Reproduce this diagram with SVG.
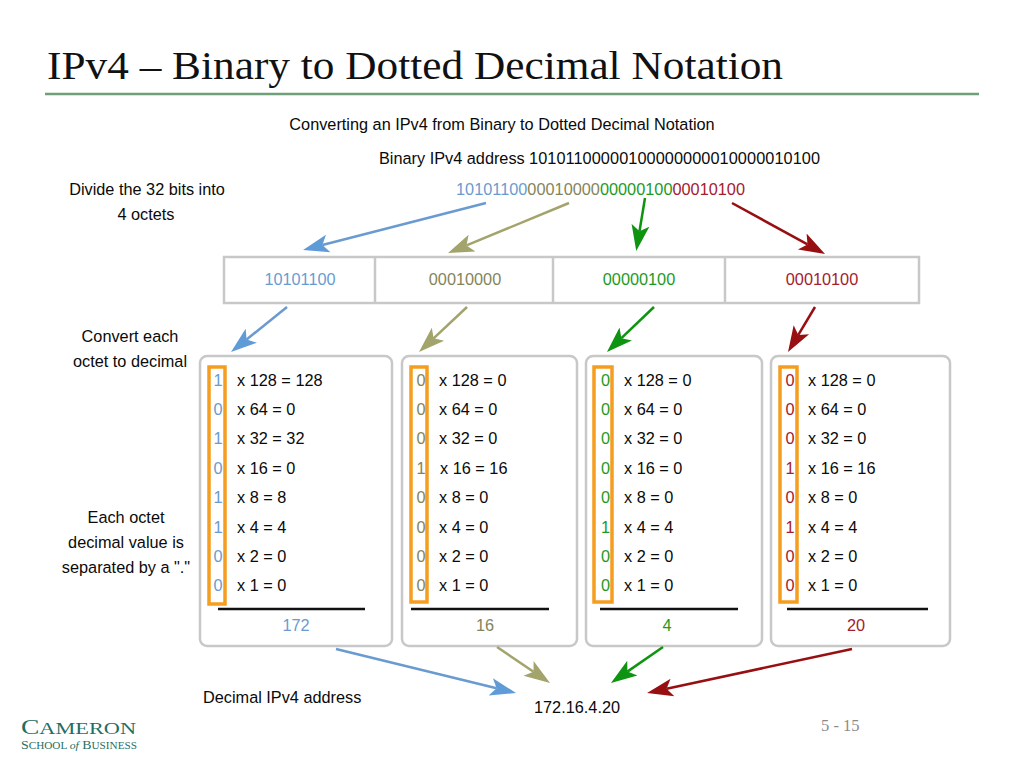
<svg xmlns="http://www.w3.org/2000/svg" width="1024" height="768" viewBox="0 0 1024 768">
<style>
text{font-family:"Liberation Sans",Arial,sans-serif;font-size:16.3px;fill:#0a0a0a}
.m{text-anchor:middle}
.b{fill:#6a9bd0}.o{fill:#84845a}.g{fill:#1c9a24}.r{fill:#a3202e}
.panel{fill:#fff;stroke:#c8c8c8;stroke-width:2.5}
.cell{fill:#fff;stroke:#c8c8c8;stroke-width:2.5}
.hl{fill:none;stroke:#f59d1e;stroke-width:3.5}
.rule{stroke:#111;stroke-width:2.5}
.a{fill:none;stroke-width:2.5}
.ab{stroke:#6a9bd0}.ao{stroke:#a3a36c}.ag{stroke:#0e9410}.ar{stroke:#980f12}
</style>
<defs>
<marker id="hb" markerUnits="userSpaceOnUse" markerWidth="28" markerHeight="22" refX="6" refY="11" orient="auto"><path d="M0,2 L26,11 L0,20 L6,11 Z" fill="#5f9bd6"/></marker>
<marker id="ho" markerUnits="userSpaceOnUse" markerWidth="28" markerHeight="22" refX="6" refY="11" orient="auto"><path d="M0,2 L26,11 L0,20 L6,11 Z" fill="#a3a36c"/></marker>
<marker id="hg" markerUnits="userSpaceOnUse" markerWidth="28" markerHeight="22" refX="6" refY="11" orient="auto"><path d="M0,2 L26,11 L0,20 L6,11 Z" fill="#0e9410"/></marker>
<marker id="hr" markerUnits="userSpaceOnUse" markerWidth="28" markerHeight="22" refX="6" refY="11" orient="auto"><path d="M0,2 L26,11 L0,20 L6,11 Z" fill="#980f12"/></marker>
</defs>
<rect width="1024" height="768" fill="#fff"/>

<g id="title">
<text x="47" y="79" textLength="736" lengthAdjust="spacingAndGlyphs" style="font-family:'Liberation Serif',serif;font-size:41px;fill:#111">IPv4 – Binary to Dotted Decimal Notation</text>
<line x1="45" y1="94" x2="979" y2="94" stroke="#6f9f78" stroke-width="2.5"/>
</g>

<g id="heading">
<text x="502" y="130" class="m">Converting an IPv4 from Binary to Dotted Decimal Notation</text>
<text x="379" y="164">Binary IPv4 address</text>
<text x="529" y="164" textLength="291">10101100000100000000010000010100</text>
</g>

<g id="bitstring">
<text x="456" y="195" textLength="289"><tspan class="b">10101100</tspan><tspan class="o">00010000</tspan><tspan class="g">00000100</tspan><tspan class="r">00010100</tspan></text>
</g>

<g id="labels">
<text x="147" y="195" class="m">Divide the 32 bits into</text>
<text x="146" y="220" class="m">4 octets</text>
<text x="130" y="342" class="m">Convert each</text>
<text x="130" y="367" class="m">octet to decimal</text>
<text x="126" y="523" class="m">Each octet</text>
<text x="126" y="548" class="m">decimal value is</text>
<text x="126" y="573" class="m">separated by a "."</text>
<text x="203" y="703">Decimal IPv4 address</text>
</g>

<g id="octets">
<rect class="cell" x="224" y="257" width="695" height="46"/>
<line class="cell" x1="375" y1="257" x2="375" y2="303"/>
<line class="cell" x1="553" y1="257" x2="553" y2="303"/>
<line class="cell" x1="725" y1="257" x2="725" y2="303"/>
<text x="300" y="285" class="m b">10101100</text>
<text x="465" y="285" class="m o">00010000</text>
<text x="639" y="285" class="m g">00000100</text>
<text x="822" y="285" class="m r">00010100</text>
</g>

<g id="panel1">
<rect class="panel" x="200" y="356" width="192" height="290" rx="7"/>
<rect class="hl" x="209" y="367" width="16" height="237"/>
<text x="218" y="386" class="m b">1</text><text x="218" y="415" class="m b">0</text><text x="218" y="444" class="m b">1</text><text x="218" y="474" class="m b">0</text><text x="218" y="503" class="m b">1</text><text x="218" y="533" class="m b">1</text><text x="218" y="562" class="m b">0</text><text x="218" y="591" class="m b">0</text>
<text x="237" y="386">x 128 = 128</text><text x="237" y="415">x 64 = 0</text><text x="237" y="444">x 32 = 32</text><text x="237" y="474">x 16 = 0</text><text x="237" y="503">x 8 = 8</text><text x="237" y="533">x 4 = 4</text><text x="237" y="562">x 2 = 0</text><text x="237" y="591">x 1 = 0</text>
<line class="rule" x1="218" y1="609" x2="365" y2="609"/>
<text x="296" y="631" class="m b">172</text>
</g>

<g id="panel2">
<rect class="panel" x="402" y="356" width="175" height="290" rx="7"/>
<rect class="hl" x="411" y="367" width="16" height="235"/>
<text x="421" y="386" class="m o">0</text><text x="421" y="415" class="m o">0</text><text x="421" y="444" class="m o">0</text><text x="421" y="474" class="m o">1</text><text x="421" y="503" class="m o">0</text><text x="421" y="533" class="m o">0</text><text x="421" y="562" class="m o">0</text><text x="421" y="591" class="m o">0</text>
<text x="439" y="386">x 128 = 0</text><text x="439" y="415">x 64 = 0</text><text x="439" y="444">x 32 = 0</text><text x="440" y="474">x 16 = 16</text><text x="439" y="503">x 8 = 0</text><text x="439" y="533">x 4 = 0</text><text x="439" y="562">x 2 = 0</text><text x="439" y="591">x 1 = 0</text>
<line class="rule" x1="411" y1="609" x2="549" y2="609"/>
<text x="485" y="631" class="m o">16</text>
</g>

<g id="panel3">
<rect class="panel" x="586" y="356" width="176" height="290" rx="7"/>
<rect class="hl" x="594" y="367" width="18" height="235"/>
<text x="605.500" y="386" class="m g">0</text><text x="605.500" y="415" class="m g">0</text><text x="605.500" y="444" class="m g">0</text><text x="605.500" y="474" class="m g">0</text><text x="605.500" y="503" class="m g">0</text><text x="605.500" y="533" class="m g">1</text><text x="605.500" y="562" class="m g">0</text><text x="605.500" y="591" class="m g">0</text>
<text x="624" y="386">x 128 = 0</text><text x="624" y="415">x 64 = 0</text><text x="624" y="444">x 32 = 0</text><text x="624" y="474">x 16 = 0</text><text x="624" y="503">x 8 = 0</text><text x="624" y="533">x 4 = 4</text><text x="624" y="562">x 2 = 0</text><text x="624" y="591">x 1 = 0</text>
<line class="rule" x1="600" y1="609" x2="738" y2="609"/>
<text x="667" y="631" class="m g">4</text>
</g>

<g id="panel4">
<rect class="panel" x="771" y="356" width="179" height="290" rx="7"/>
<rect class="hl" x="780" y="367" width="17" height="235"/>
<text x="790" y="386" class="m r">0</text><text x="790" y="415" class="m r">0</text><text x="790" y="444" class="m r">0</text><text x="790" y="474" class="m r">1</text><text x="790" y="503" class="m r">0</text><text x="790" y="533" class="m r">1</text><text x="790" y="562" class="m r">0</text><text x="790" y="591" class="m r">0</text>
<text x="808" y="386">x 128 = 0</text><text x="808" y="415">x 64 = 0</text><text x="808" y="444">x 32 = 0</text><text x="808" y="474">x 16 = 16</text><text x="808" y="503">x 8 = 0</text><text x="808" y="533">x 4 = 4</text><text x="808" y="562">x 2 = 0</text><text x="808" y="591">x 1 = 0</text>
<line class="rule" x1="787" y1="609" x2="928" y2="609"/>
<text x="856" y="631" class="m r">20</text>
</g>

<g id="result">
<text x="534" y="713">172.16.4.20</text>
</g>

<g id="connectors">
<line class="a ab" x1="486" y1="203" x2="322.4" y2="245" marker-end="url(#hb)"/>
<line class="a ao" x1="569" y1="203" x2="466.5" y2="245.4" marker-end="url(#ho)"/>
<line class="a ag" x1="645" y1="198" x2="639.5" y2="231.3" marker-end="url(#hg)"/>
<line class="a ar" x1="732" y1="203" x2="807.5" y2="244.4" marker-end="url(#hr)"/>
<line class="a ab" x1="287" y1="307" x2="246.6" y2="339.5" marker-end="url(#hb)"/>
<line class="a ao" x1="467" y1="307" x2="433.6" y2="338.3" marker-end="url(#ho)"/>
<line class="a ag" x1="654" y1="307" x2="621.4" y2="338.2" marker-end="url(#hg)"/>
<line class="a ar" x1="815" y1="307" x2="798.3" y2="334.9" marker-end="url(#hr)"/>
<line class="a ab" x1="336" y1="649" x2="496.6" y2="688.3" marker-end="url(#hb)"/>
<line class="a ao" x1="497" y1="647" x2="533.5" y2="671.8" marker-end="url(#ho)"/>
<line class="a ag" x1="663" y1="647" x2="627.4" y2="671.6" marker-end="url(#hg)"/>
<line class="a ar" x1="852" y1="649" x2="666.6" y2="688.8" marker-end="url(#hr)"/>
</g>

<g id="logo">
<text x="21" y="734" textLength="115" lengthAdjust="spacingAndGlyphs" style="font-family:'Liberation Serif',serif;font-size:21px;fill:#1f6f65">C<tspan style="font-size:17px">AMERON</tspan></text>
<text x="21" y="749" textLength="116" lengthAdjust="spacingAndGlyphs" style="font-family:'Liberation Serif',serif;font-size:13px;fill:#1f6f65">S<tspan style="font-size:10.5px">CHOOL </tspan><tspan style="font-style:italic;font-size:11px">of</tspan> B<tspan style="font-size:10.5px">USINESS</tspan></text>
</g>

<g id="pagenum">
<text x="821" y="731" style="font-family:'Liberation Serif',serif;font-size:16.500px;fill:#8a8a8a">5 - 15</text>
</g>
</svg>
